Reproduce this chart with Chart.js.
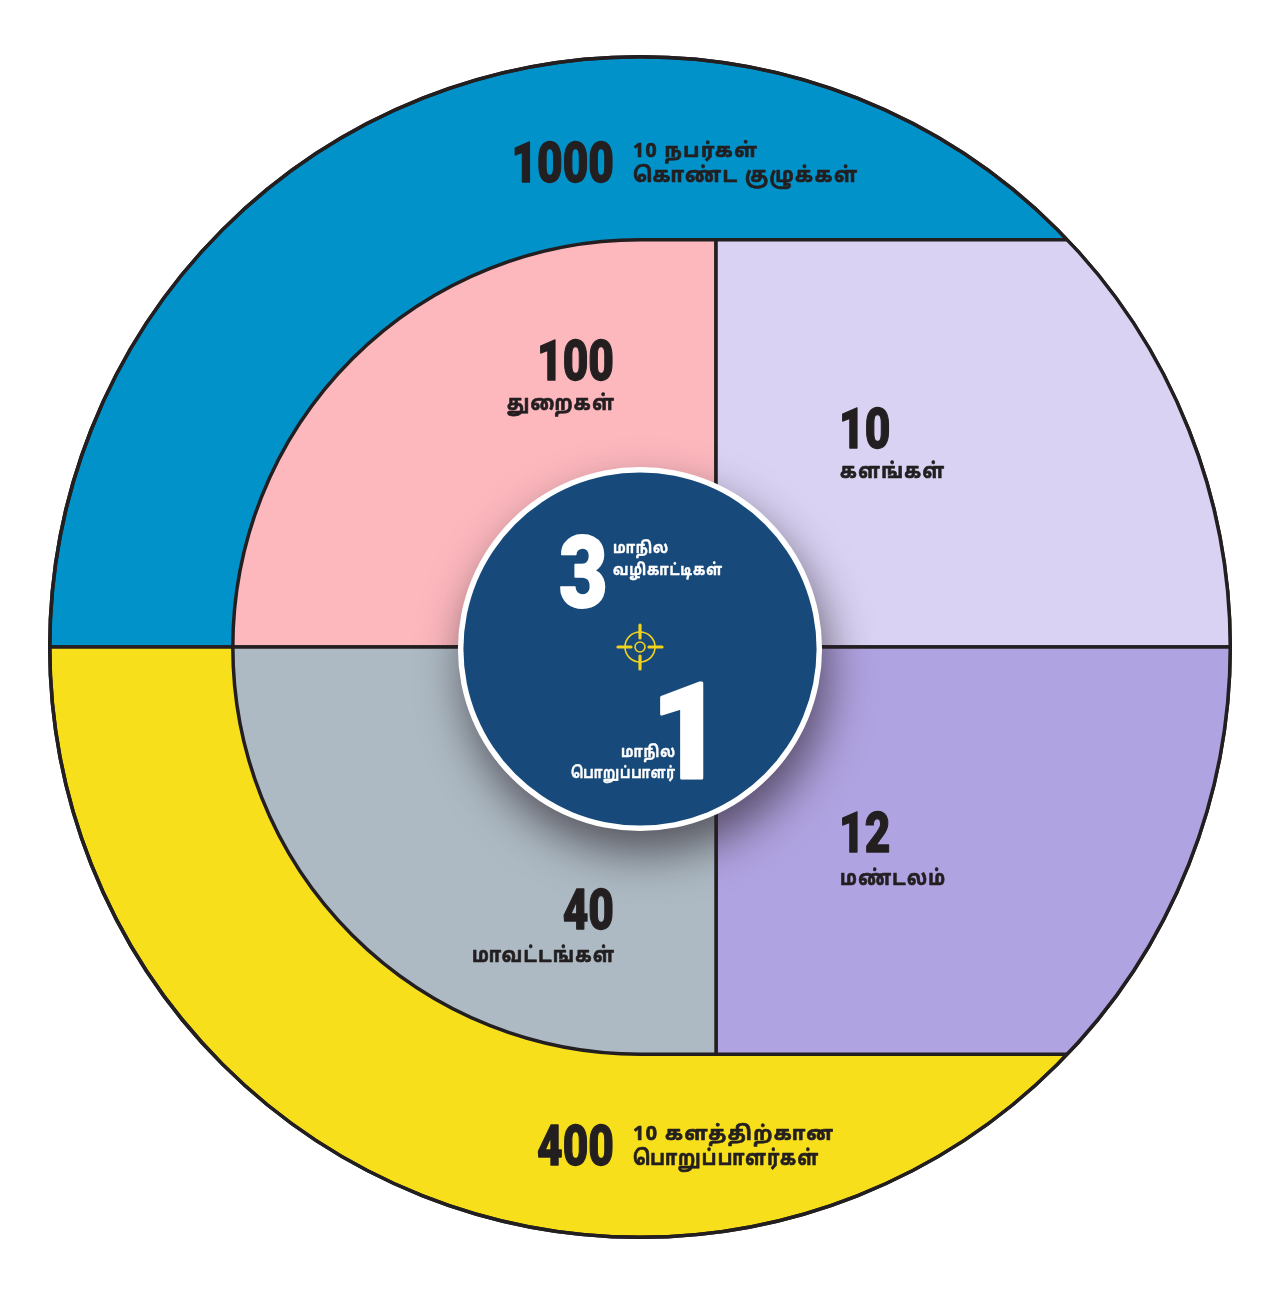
<!DOCTYPE html>
<html>
<head>
<meta charset="utf-8">
<script src="https://cdn.jsdelivr.net/npm/chart.js@4.4.1/dist/chart.umd.min.js"></script>
<style>
  html, body { margin: 0; background: #fff; }
  #wrap { width: 1280px; height: 1295px; }
</style>
</head>
<body>
<div id="wrap"><canvas id="chart"></canvas></div>
<script>
// data
const ringShare = [50, 50];                 // outer disc: top half / bottom half
const ringValues = [1000, 400];
const ringLabels = [['10 நபர்கள்', 'கொண்ட குழுக்கள்'], ['10 களத்திற்கான', 'பொறுப்பாளர்கள்']];
const quadValues = [100, 10, 12, 40];       // top-left, top-right, bottom-right, bottom-left
const quadLabels = ['துறைகள்', 'களங்கள்', 'மண்டலம்', 'மாவட்டங்கள்'];
const coreValues = [3, 1];
const coreLabels = [['மாநில', 'வழிகாட்டிகள்'], ['மாநில', 'பொறுப்பாளர்']];

const INK = '#231f20';
const RING_COLORS = ['#0092c9', '#f8df1b'];
const QUAD_COLORS = ['#fdb8be', '#d9d2f3', '#b0a3e1', '#adbac3'];
const NAVY = '#174a7b';
const GOLD = '#f1d21c';
const TAMIL = '"Noto Sans Tamil", "Lohit Tamil", "Noto Sans", "DejaVu Sans", sans-serif';
const NUM = 'Roboto, "Liberation Sans", sans-serif';

// text helper - fit to width (squeeze), letter spacing, fake-heavy stroke
function txt(ctx, s, x, y, o) {
  ctx.save();
  ctx.font = `${o.weight || 700} ${o.size}px ${o.family || TAMIL}`;
  ctx.fillStyle = o.color || INK;
  ctx.strokeStyle = o.color || INK;
  ctx.textAlign = 'left';
  ctx.textBaseline = 'alphabetic';
  if ('letterSpacing' in ctx) ctx.letterSpacing = (o.ls || 0) + 'px';
  const raw = ctx.measureText(s).width - (o.ls || 0);
  const sx = o.fit ? o.fit / raw : (o.sx || 1);
  const w = raw * sx;
  const left = o.align === 'right' ? x - w : (o.align === 'center' ? x - w / 2 : x);
  ctx.translate(left, y);
  ctx.scale(sx, 1);
  ctx.fillText(s, 0, 0);
  if (o.heavy) { ctx.lineWidth = o.heavy; ctx.lineJoin = 'round'; ctx.strokeText(s, 0, 0); }
  ctx.restore();
}

const layers = {
  id: 'layers',
  afterDatasetsDraw(chart) {
    const ctx = chart.ctx;
    const arc = chart.getDatasetMeta(0).data[0];
    const cx = arc.x, cy = arc.y, R = arc.outerRadius;
    const k = R / 590;
    const r1 = 407 * k;     // inner block radius / half height
    const d = 76 * k;       // vertical divider offset
    const lw = 3.5;

    ctx.save();
    ctx.beginPath();
    ctx.arc(cx, cy, R, 0, Math.PI * 2);
    ctx.clip();
    ctx.lineWidth = lw;
    ctx.strokeStyle = INK;
    ctx.lineJoin = 'miter';

    const shapes = [
      p => { p.moveTo(cx - r1, cy); p.arc(cx, cy, r1, Math.PI, Math.PI * 1.5); p.lineTo(cx + d, cy - r1); p.lineTo(cx + d, cy); p.closePath(); },
      p => { p.rect(cx + d, cy - r1, R + 20, r1); },
      p => { p.rect(cx + d, cy, R + 20, r1); },
      p => { p.moveTo(cx - r1, cy); p.arc(cx, cy, r1, Math.PI, Math.PI * 0.5, true); p.lineTo(cx + d, cy + r1); p.lineTo(cx + d, cy); p.closePath(); }
    ];
    shapes.forEach((fn, i) => {
      ctx.beginPath();
      fn(ctx);
      ctx.fillStyle = QUAD_COLORS[i];
      ctx.fill();
      ctx.stroke();
    });
    ctx.restore();

    // outer rim again on top
    ctx.save();
    ctx.beginPath();
    ctx.arc(cx, cy, R, 0, Math.PI * 2);
    ctx.lineWidth = lw;
    ctx.strokeStyle = INK;
    ctx.stroke();
    ctx.restore();

    // core disc with drop shadow
    const rc = 182 * k;
    ctx.save();
    ctx.shadowColor = 'rgba(40,30,40,0.65)';
    ctx.shadowBlur = 45;
    ctx.shadowOffsetX = 6;
    ctx.shadowOffsetY = 22;
    ctx.beginPath();
    ctx.arc(cx, cy + 2, rc, 0, Math.PI * 2);
    ctx.fillStyle = '#fff';
    ctx.fill();
    ctx.restore();
    ctx.beginPath();
    ctx.arc(cx, cy + 2, rc - 5.5 * k, 0, Math.PI * 2);
    ctx.fillStyle = NAVY;
    ctx.fill();

    // target icon
    ctx.save();
    ctx.strokeStyle = GOLD;
    ctx.lineWidth = 1.6;
    ctx.beginPath(); ctx.arc(cx, cy, 15, 0, Math.PI * 2); ctx.stroke();
    ctx.beginPath(); ctx.arc(cx, cy, 5, 0, Math.PI * 2); ctx.stroke();
    ctx.lineWidth = 3.2;
    ctx.lineCap = 'round';
    [[1, 0], [-1, 0], [0, 1], [0, -1]].forEach(([ux, uy]) => {
      ctx.beginPath();
      ctx.moveTo(cx + ux * 9, cy + uy * 9);
      ctx.lineTo(cx + ux * 22, cy + uy * 22);
      ctx.stroke();
    });
    ctx.restore();

    // --- labels
    const numTop = { size: 56, weight: 900, family: NUM, sx: 0.79, heavy: 1.3 };
    const lab = { size: 21, ls: 1.5, heavy: 0.7 };
    // outer ring top
    txt(ctx, String(ringValues[0]), cx - 26 * k, cy - 465 * k, { ...numTop, align: 'right' });
    txt(ctx, ringLabels[0][0], cx - 7 * k, cy - 490 * k, { ...lab, size: 20, fit: 124 * k });
    txt(ctx, ringLabels[0][1], cx - 7 * k, cy - 465 * k, { ...lab, fit: 224 * k });
    // outer ring bottom
    txt(ctx, String(ringValues[1]), cx - 26 * k, cy + 518 * k, { ...numTop, align: 'right' });
    txt(ctx, ringLabels[1][0], cx - 7 * k, cy + 493 * k, { ...lab, size: 20, fit: 200 * k });
    txt(ctx, ringLabels[1][1], cx - 7 * k, cy + 518 * k, { ...lab, fit: 185 * k });

    // quadrants
    txt(ctx, String(quadValues[0]), cx - 26 * k, cy - 267 * k, { ...numTop, align: 'right' });
    txt(ctx, quadLabels[0], cx - 26 * k, cy - 237 * k, { ...lab, align: 'right', fit: 107 * k });
    txt(ctx, String(quadValues[1]), cx + 199 * k, cy - 199 * k, { ...numTop });
    txt(ctx, quadLabels[1], cx + 200 * k, cy - 169 * k, { ...lab, fit: 104 * k });
    txt(ctx, String(quadValues[2]), cx + 199 * k, cy + 205 * k, { ...numTop });
    txt(ctx, quadLabels[2], cx + 200 * k, cy + 238 * k, { ...lab, fit: 105 * k });
    txt(ctx, String(quadValues[3]), cx - 26 * k, cy + 282 * k, { ...numTop, align: 'right' });
    txt(ctx, quadLabels[3], cx - 26 * k, cy + 315 * k, { ...lab, align: 'right', fit: 142 * k });

    // core
    const clab = { size: 16, ls: 1, color: '#fff', heavy: 0.4 };
    txt(ctx, String(coreValues[0]), cx - 81 * k, cy - 40 * k, { size: 100, weight: 900, family: NUM, sx: 0.84, color: '#fff', heavy: 2 });
    txt(ctx, coreLabels[0][0], cx - 27 * k, cy - 94 * k, { ...clab, fit: 55 * k });
    txt(ctx, coreLabels[0][1], cx - 27 * k, cy - 72 * k, { ...clab, fit: 109 * k });
    txt(ctx, String(coreValues[1]), cx + 83 * k, cy + 131 * k, { size: 134, weight: 900, family: NUM, sx: 0.92, color: '#fff', align: 'right', heavy: 3 });
    txt(ctx, coreLabels[1][0], cx + 35 * k, cy + 110 * k, { ...clab, align: 'right', fit: 54 * k });
    txt(ctx, coreLabels[1][1], cx + 35 * k, cy + 131 * k, { ...clab, align: 'right', fit: 104 * k });
  }
};

new Chart(document.getElementById('chart'), {
  type: 'pie',
  data: {
    labels: ringValues.map(String),
    datasets: [{
      data: ringShare,
      backgroundColor: RING_COLORS,
      borderColor: INK,
      borderWidth: 3.5,
      hoverOffset: 0
    }]
  },
  options: {
    responsive: true,
    maintainAspectRatio: false,
    animation: false,
    rotation: -90,
    layout: { padding: { left: 48, right: 48, top: 55, bottom: 56 } },
    plugins: { legend: { display: false }, tooltip: { enabled: false } },
    events: []
  },
  plugins: [layers]
});
</script>
</body>
</html>
